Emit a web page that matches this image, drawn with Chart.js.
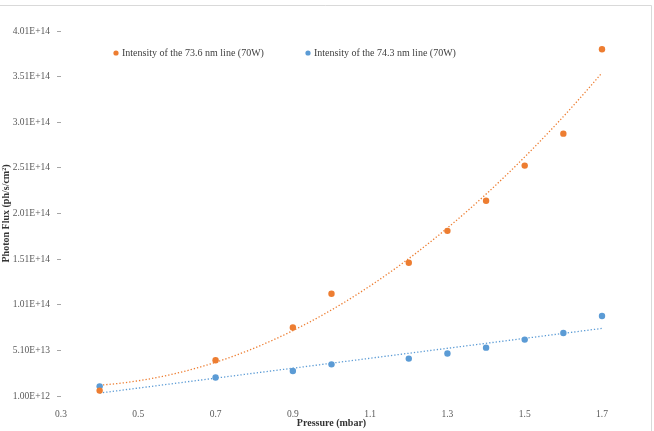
<!DOCTYPE html>
<html><head><meta charset="utf-8">
<script src="https://cdn.jsdelivr.net/npm/chart.js@4.4.1/dist/chart.umd.min.js"></script>
<style>html,body{margin:0;padding:0;background:#fff;}#wrap{width:654px;height:431px;position:relative;}</style>
</head><body><div id="wrap"><canvas id="c" width="654" height="431"></canvas></div>
<script>
// ---- data ----
const pressure = [0.4, 0.7, 0.9, 1.0, 1.2, 1.3, 1.4, 1.5, 1.6, 1.7];
const flux736 = [6.9e12, 4.01e13, 7.6e13, 1.13e14, 1.47e14, 1.82e14, 2.15e14, 2.535e14, 2.885e14, 3.81e14];
const flux743 = [1.16e13, 2.12e13, 2.84e13, 3.57e13, 4.2e13, 4.75e13, 5.4e13, 6.28e13, 7.0e13, 8.87e13];
const seriesNames = ["Intensity of the 73.6 nm line (70W)", "Intensity of the 74.3 nm line (70W)"];
const xTickValues = [0.3, 0.5, 0.7, 0.9, 1.1, 1.3, 1.5, 1.7];
const yTickValues = [1e12, 5.1e13, 1.01e14, 1.51e14, 2.01e14, 2.51e14, 3.01e14, 3.51e14, 4.01e14];
const yTickLabels = ["1.00E+12", "5.10E+13", "1.01E+14", "1.51E+14", "2.01E+14", "2.51E+14", "3.01E+14", "3.51E+14", "4.01E+14"];
const xTitle = "Pressure (mbar)";
const yTitle = "Photon Flux (ph/s/cm\u00B2)";

const ORANGE = '#ED7D31';
const BLUE = '#5B9BD5';
const FONT = "'Liberation Serif', 'Times New Roman', serif";

// least-squares polynomial trendline (as Excel does)
function polyfit(xs, ys, deg) {
  const n = deg + 1;
  const A = Array.from({length: n}, () => new Array(n + 1).fill(0));
  for (let k = 0; k < xs.length; k++) {
    for (let i = 0; i < n; i++) {
      for (let j = 0; j < n; j++) A[i][j] += Math.pow(xs[k], i + j);
      A[i][n] += ys[k] * Math.pow(xs[k], i);
    }
  }
  for (let i = 0; i < n; i++) {
    let p = i;
    for (let r = i + 1; r < n; r++) if (Math.abs(A[r][i]) > Math.abs(A[p][i])) p = r;
    [A[i], A[p]] = [A[p], A[i]];
    for (let r = 0; r < n; r++) {
      if (r === i) continue;
      const f = A[r][i] / A[i][i];
      for (let c = i; c <= n; c++) A[r][c] -= f * A[i][c];
    }
  }
  return A.map((row, i) => row[n] / row[i]);
}
function trend(xs, ys, deg) {
  const c = polyfit(xs, ys, deg);
  const x0 = Math.min(...xs), x1 = Math.max(...xs);
  const pts = [];
  const N = 80;
  for (let i = 0; i <= N; i++) {
    const x = x0 + (x1 - x0) * i / N;
    let y = 0;
    for (let k = 0; k < c.length; k++) y += c[k] * Math.pow(x, k);
    pts.push({x, y});
  }
  return pts;
}

const framePlugin = {
  id: 'frame',
  beforeDraw(chart) {
    const ctx = chart.ctx;
    ctx.save();
    ctx.fillStyle = '#fff';
    ctx.fillRect(0, 0, chart.width, chart.height);
    ctx.strokeStyle = '#d9d9d9';
    ctx.lineWidth = 1;
    ctx.beginPath();
    ctx.moveTo(0, 5.5); ctx.lineTo(651.5, 5.5); ctx.lineTo(651.5, chart.height);
    ctx.stroke();
    ctx.restore();
  }
};

const legendPlugin = {
  id: 'plotLegend',
  afterDraw(chart) {
    const ctx = chart.ctx;
    const xs = [116, 308];
    const y = 53;
    ctx.save();
    ctx.font = "10px " + FONT;
    ctx.textBaseline = 'middle';
    ctx.textAlign = 'left';
    [0, 1].forEach(i => {
      const ds = chart.data.datasets[i];
      ctx.fillStyle = ds.backgroundColor;
      ctx.beginPath(); ctx.arc(xs[i], y, 2.6, 0, Math.PI * 2); ctx.fill();
      ctx.fillStyle = '#404040';
      ctx.fillText(ds.label, xs[i] + 6, y);
    });
    ctx.restore();
  }
};

new Chart(document.getElementById('c'), {
  type: 'scatter',
  data: {
    datasets: [
      {label: seriesNames[0], data: pressure.map((x, i) => ({x, y: flux736[i]})), clip: false,
       backgroundColor: ORANGE, borderColor: ORANGE, pointRadius: 3.2, pointHoverRadius: 3.2, borderWidth: 0, order: 1},
      {label: seriesNames[1], data: pressure.map((x, i) => ({x, y: flux743[i]})), clip: false,
       backgroundColor: BLUE, borderColor: BLUE, pointRadius: 3.2, pointHoverRadius: 3.2, borderWidth: 0, order: 1},
      {label: 'Poly. trend 73.6', data: trend(pressure, flux736, 2), showLine: true, clip: false,
       borderColor: ORANGE, backgroundColor: ORANGE, borderWidth: 1.3, borderDash: [1.3, 2], pointRadius: 0, order: 2},
      {label: 'Linear trend 74.3', data: trend(pressure, flux743, 1), showLine: true, clip: false,
       borderColor: BLUE, backgroundColor: BLUE, borderWidth: 1.3, borderDash: [1.3, 2], pointRadius: 0, order: 2}
    ]
  },
  options: {
    responsive: false, animation: false, devicePixelRatio: 1,
    layout: {padding: {top: 31, right: 52, bottom: 0, left: 0}},
    plugins: {legend: {display: false}, tooltip: {enabled: false}},
    scales: {
      x: {
        type: 'linear', min: 0.3, max: 1.7,
        afterBuildTicks: s => { s.ticks = xTickValues.map(v => ({value: v})); },
        afterFit: s => { s.height = 35; },
        grid: {display: false}, border: {display: false},
        ticks: {font: {family: FONT, size: 9.5}, color: '#595959', padding: 5, maxRotation: 0, autoSkip: false,
                callback: v => Number(v).toFixed(1)},
        title: {display: true, text: xTitle, font: {family: FONT, size: 10, weight: 'bold'}, color: '#333', padding: {top: 0, bottom: 2}}
      },
      y: {
        type: 'linear', min: 1e12, max: 4.01e14,
        afterBuildTicks: s => { s.ticks = yTickValues.map(v => ({value: v})); },
        afterFit: s => { s.width = 61; },
        grid: {display: true, drawOnChartArea: false, drawTicks: true, tickLength: 4, color: '#a6a6a6'},
        border: {display: false},
        ticks: {font: {family: FONT, size: 9.5}, color: '#595959', padding: 7, autoSkip: false,
                callback: (v, i) => yTickLabels[i]},
        title: {display: true, text: yTitle, font: {family: FONT, size: 10, weight: 'bold'}, color: '#333', padding: {top: 0, bottom: 0}}
      }
    }
  },
  plugins: [framePlugin, legendPlugin]
});
</script>
</body></html>
